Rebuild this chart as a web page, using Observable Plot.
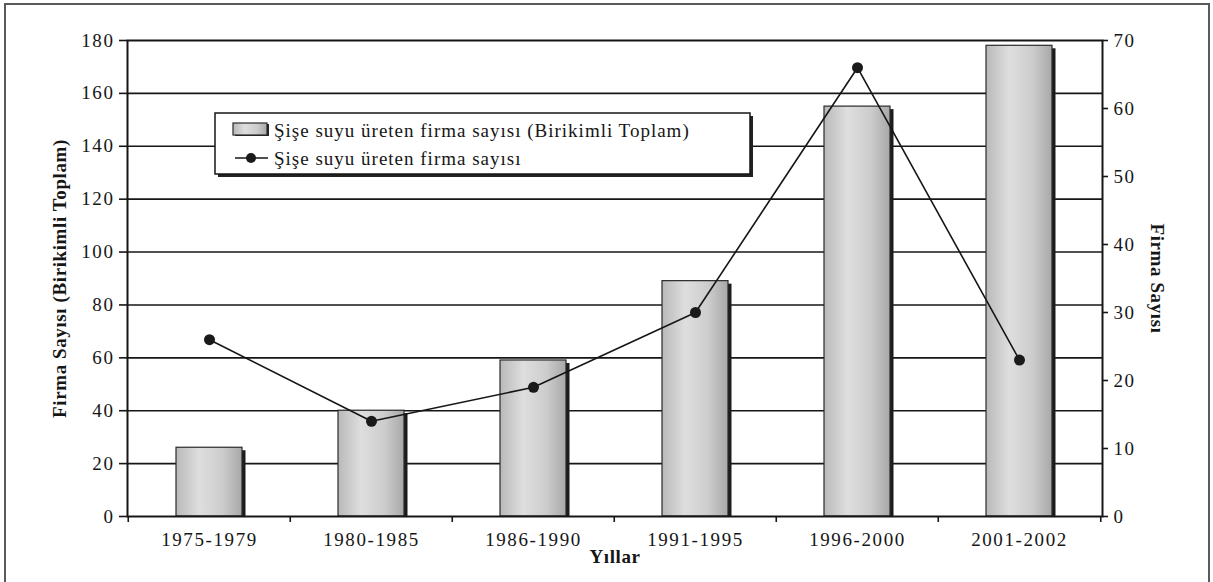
<!DOCTYPE html>
<html><head><meta charset="utf-8">
<script src="https://cdn.jsdelivr.net/npm/d3@7"></script>
<script src="https://cdn.jsdelivr.net/npm/@observablehq/plot@0.6"></script>
<style>
html,body{margin:0;padding:0;background:#fff;}
#chart{position:relative;width:1213px;height:582px;overflow:hidden;background:#fff;}
#chart svg [aria-label$="tick label"] text{letter-spacing:1.6px;}
</style></head><body><div id="chart"></div>
<script>
// ---- data ----
const periods = ["1975-1979", "1980-1985", "1986-1990", "1991-1995", "1996-2000", "2001-2002"];
const cumulativeFirms = [26, 40, 59, 89, 155, 178];
const firmsPerPeriod = [26, 14, 19, 30, 66, 23];
const leftTicks = [0, 20, 40, 60, 80, 100, 120, 140, 160, 180];
const rightTicks = [0, 10, 20, 30, 40, 50, 60, 70];
const legendLabels = ["Şişe suyu üreten firma sayısı (Birikimli Toplam)", "Şişe suyu üreten firma sayısı"];
const xTitle = "Yıllar";
const yLeftTitle = "Firma Sayısı (Birikimli Toplam)";
const yRightTitle = "Firma Sayısı";

const leftMax = 180, rightMax = 70, k = leftMax / rightMax;
const data = periods.map((period, i) => ({period, cum: cumulativeFirms[i], firms: firmsPerPeriod[i]}));

const W = 1213, H = 582, mL = 127, mR = 111, mT = 40, mB = 66;
const step = (W - mL - mR) / periods.length;
const serif = "'Liberation Serif','Times New Roman',serif";
const ink = "#161616";

const svg = Plot.plot({
  width: W, height: H,
  marginLeft: mL, marginRight: mR, marginTop: mT, marginBottom: mB,
  style: {fontFamily: serif, fontSize: "19px", color: ink, background: "transparent", overflow: "visible"},
  x: {domain: periods, paddingInner: 0.59, paddingOuter: 0.295, axis: null},
  y: {domain: [0, leftMax], axis: null},
  marks: [
    Plot.ruleY(leftTicks.filter(t => t > 0 && t < leftMax), {stroke: ink, strokeWidth: 1.6}),
    Plot.barY(data, {x: "period", y: "cum", fill: "#1c1c1c", dx: 3.5, insetTop: 3}),
    Plot.barY(data, {x: "period", y: "cum", fill: "url(#barGrad)", stroke: "#2a2a2a", strokeWidth: 1.2}),
    Plot.frame({stroke: ink, strokeWidth: 2}),
    Plot.ruleX(periods, {x: d => d, dx: -step / 2, y1: 0, y2: 0, insetBottom: -6, stroke: ink, strokeWidth: 1.6}),
    Plot.ruleX([periods[periods.length - 1]], {x: d => d, dx: step / 2, y1: 0, y2: 0, insetBottom: -6, stroke: ink, strokeWidth: 1.6}),
    Plot.axisY(leftTicks, {anchor: "left", label: null, tickSize: 8, tickPadding: 5, strokeWidth: 1.6, fontSize: 19}),
    Plot.axisY(rightTicks.map(t => t * k), {anchor: "right", label: null, tickSize: 5, tickPadding: 6, strokeWidth: 1.6, fontSize: 19,
      tickFormat: d => String(Math.round(d / k))}),
    Plot.axisX({label: null, tickSize: 0, tickPadding: 16, fontSize: 19}),
    Plot.line(data, {x: "period", y: d => d.firms * k, stroke: ink, strokeWidth: 1.6}),
    Plot.dot(data, {x: "period", y: d => d.firms * k, r: 5.5, fill: "#1a1a1a", stroke: "none"}),
    Plot.text([xTitle], {frameAnchor: "bottom", dy: 46, textAnchor: "middle", fontWeight: "bold", fontSize: 19}),
    Plot.text([yLeftTitle], {frameAnchor: "left", dx: -68, textAnchor: "middle", rotate: -90, fontWeight: "bold", fontSize: 19}),
    Plot.text([yRightTitle], {frameAnchor: "right", dx: 55, textAnchor: "middle", rotate: 90, fontWeight: "bold", fontSize: 19})
  ]
});

const s = d3.select(svg);
// gradient for bars
const defs = s.insert("defs", ":first-child");
const g = defs.append("linearGradient").attr("id", "barGrad").attr("x1", "0%").attr("x2", "100%").attr("y1", "0%").attr("y2", "0%");
[["0%", "#b9b9b9"], ["35%", "#dedede"], ["70%", "#cdcdcd"], ["100%", "#a8a8a8"]].forEach(([o, c]) =>
  g.append("stop").attr("offset", o).attr("stop-color", c));

// title texts letter spacing
s.selectAll("text").filter(function () { return [xTitle, yLeftTitle, yRightTitle].includes(this.textContent); })
  .attr("letter-spacing", "0.6px");

// outer frame of the figure
s.insert("rect", "defs + *").attr("x", 5).attr("y", 4).attr("width", 1204).attr("height", 620)
  .attr("fill", "none").attr("stroke", "#5a5a5a").attr("stroke-width", 2);

// legend
const lg = s.append("g").attr("font-family", serif).attr("font-size", 19).attr("letter-spacing", "1px")
  .attr("text-anchor", "start").attr("fill", ink);
const bx = 215, by = 113, bw = 535, bh = 61;
lg.append("rect").attr("x", bx + 3).attr("y", by + 3).attr("width", bw).attr("height", bh).attr("fill", "#222");
lg.append("rect").attr("x", bx).attr("y", by).attr("width", bw).attr("height", bh).attr("fill", "#fff").attr("stroke", ink).attr("stroke-width", 1.5);
lg.append("rect").attr("x", 235).attr("y", 124).attr("width", 34).attr("height", 12).attr("fill", "#222");
lg.append("rect").attr("x", 233).attr("y", 123).attr("width", 34).attr("height", 12).attr("fill", "url(#barGrad)").attr("stroke", "#2a2a2a").attr("stroke-width", 1.2);
lg.append("text").attr("x", 274).attr("y", 137).text(legendLabels[0]);
lg.append("line").attr("x1", 235).attr("x2", 268).attr("y1", 158).attr("y2", 158).attr("stroke", ink).attr("stroke-width", 1.6);
lg.append("circle").attr("cx", 251).attr("cy", 158).attr("r", 5).attr("fill", "#1a1a1a");
lg.append("text").attr("x", 274).attr("y", 165).text(legendLabels[1]);

document.getElementById("chart").appendChild(svg);
</script>
</body></html>
